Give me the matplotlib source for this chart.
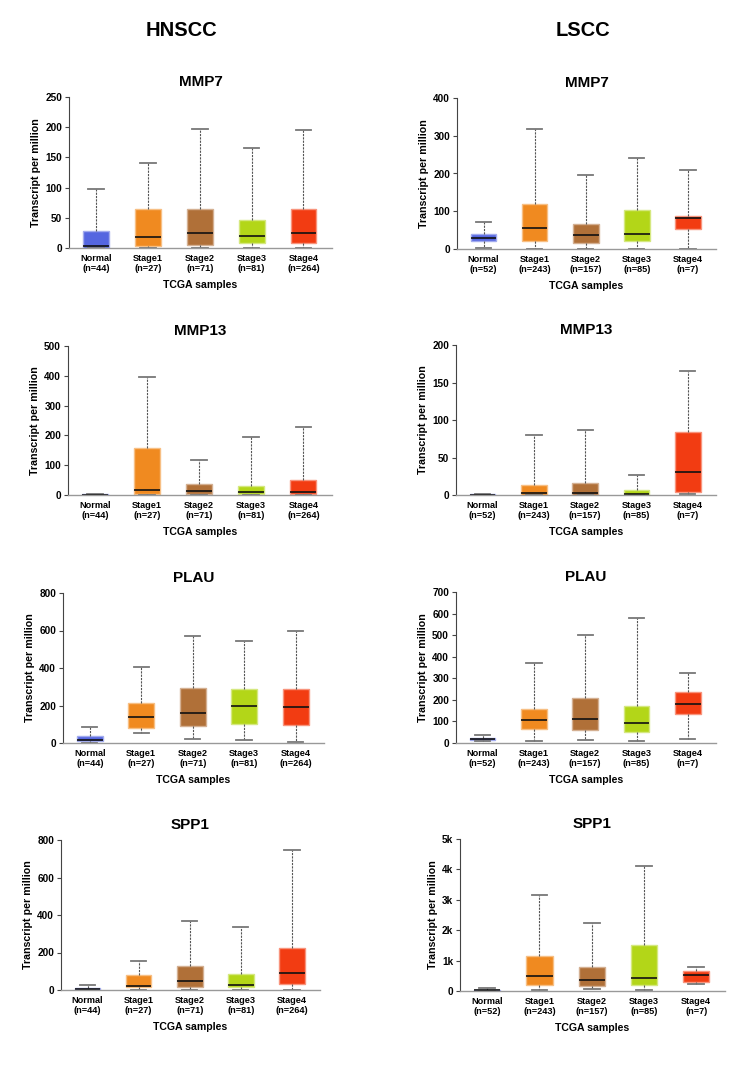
import numpy as np
import matplotlib.pyplot as plt
from matplotlib.ticker import FuncFormatter

plt.rcParams['font.family'] = ['Liberation Sans', 'DejaVu Sans']
plt.rcParams['font.weight'] = 'bold'

# ---------- data ----------
stages = ['Normal', 'Stage1', 'Stage2', 'Stage3', 'Stage4']
n_hnscc = [44, 27, 71, 81, 264]
n_lscc = [52, 243, 157, 85, 7]
colors = ['#5566e0', '#f08a20', '#b07038', '#b3d618', '#f23c12']

# each box: [lower whisker, q1, median, q3, upper whisker]
hnscc_mmp7 = [[0, 0.5, 4, 28, 97], [0.5, 4, 19, 65, 141], [0, 5.5, 25, 65, 197],
              [0.5, 8, 20, 46, 165], [0, 8, 25, 64, 195]]
lscc_mmp7 = [[3.5, 21, 28, 39, 71], [1, 22, 55, 118, 318], [1, 16, 36, 65, 196],
             [1, 21, 40, 104, 242], [1, 54, 81, 88, 210]]
hnscc_mmp13 = [[0, 0.2, 0.5, 2, 4], [0, 2, 16, 157, 396], [0, 5, 12, 38, 116],
               [0, 3, 10, 30, 195], [0, 3, 10, 51, 229]]
lscc_mmp13 = [[0, 0.1, 0.4, 1, 1.5], [0, 0.5, 2.2, 13.3, 79.5], [0, 0.4, 2.2, 16.4, 87],
              [0, 0.3, 1.3, 6.2, 26.7], [1, 4, 30.7, 83.5, 166]]
hnscc_plau = [[2, 10, 16, 35, 83], [51, 80, 140, 212, 407], [21, 90, 159, 294, 572],
              [18, 104, 196, 288, 545], [4, 97, 191, 288, 595]]
lscc_plau = [[11, 14, 19, 25, 39], [9, 63, 107, 159, 371], [15, 60, 113, 210, 501],
             [9, 51, 94, 172, 580], [19, 134, 179, 236, 325]]
hnscc_spp1 = [[0, 2, 5, 12, 25], [2, 16, 23, 82, 155], [2, 14, 50, 130, 368],
              [2, 14, 28, 87, 336], [2, 30, 92, 226, 745]]
lscc_spp1 = [[5, 15, 25, 40, 90], [44, 209, 485, 1167, 3150], [55, 176, 352, 782, 2236],
             [44, 209, 430, 1520, 4108], [242, 297, 540, 661, 804]]

panels = [
    ('MMP7', hnscc_mmp7, n_hnscc, 250, 50, (69, 97, 332, 248)),
    ('MMP7', lscc_mmp7, n_lscc, 400, 100, (457, 98, 716, 249)),
    ('MMP13', hnscc_mmp13, n_hnscc, 500, 100, (68, 346, 332, 495)),
    ('MMP13', lscc_mmp13, n_lscc, 200, 50, (456, 345, 716, 495)),
    ('PLAU', hnscc_plau, n_hnscc, 800, 200, (63, 593, 324, 743)),
    ('PLAU', lscc_plau, n_lscc, 700, 100, (456, 592, 716, 743)),
    ('SPP1', hnscc_spp1, n_hnscc, 800, 200, (61, 840, 320, 990)),
    ('SPP1', lscc_spp1, n_lscc, 5000, 1000, (460, 839, 725, 991)),
]

W, H = 750, 1068
fig = plt.figure(figsize=(W / 100, H / 100), dpi=100)
fig.text(181 / W, 1 - 31 / H, 'HNSCC', ha='center', va='center', fontsize=14.5, fontweight='bold')
fig.text(583 / W, 1 - 31 / H, 'LSCC', ha='center', va='center', fontsize=14.5, fontweight='bold')


def lighten(c, f=0.45):
    rgb = np.array(plt.matplotlib.colors.to_rgb(c))
    return tuple(rgb + (1 - rgb) * f)


for gene, data, ns, ymax, step, (x0, y0, x1, y1) in panels:
    ax = fig.add_axes([x0 / W, 1 - y1 / H, (x1 - x0) / W, (y1 - y0) / H])
    stats = []
    for lab, (lo, q1, med, q3, hi) in zip(stages, data):
        stats.append(dict(label=lab, whislo=lo, q1=q1, med=med, q3=q3, whishi=hi, fliers=[]))
    pos = np.arange(1, 6)
    bp = ax.bxp(stats, positions=pos, widths=0.5, patch_artist=True, showfliers=False,
                whiskerprops=dict(color='#555555', linestyle=(0, (2, 1)), linewidth=0.8),
                capprops=dict(color='#777777', linewidth=1.3),
                medianprops=dict(color='#111111', linewidth=1.2),
                boxprops=dict(linewidth=1.0))
    for patch, c in zip(bp['boxes'], colors):
        patch.set_facecolor(c)
        patch.set_edgecolor(lighten(c))
    for cap in bp['caps']:
        xd = cap.get_xdata()
        m = (xd[0] + xd[1]) / 2
        cap.set_xdata([m - 0.15, m + 0.15])

    ax.set_xlim(0.48, 5.55)
    ax.set_ylim(0, ymax)
    ax.set_yticks(np.arange(0, ymax + step / 2, step))
    if ymax >= 1000:
        ax.yaxis.set_major_formatter(FuncFormatter(lambda v, p: '0' if v == 0 else f'{int(v / 1000)}k'))
    ax.set_xticks(pos)
    ax.set_xticklabels([f'{s}\n(n={n})' for s, n in zip(stages, ns)], fontsize=6.6, fontweight='bold')
    ax.tick_params(axis='x', length=0, pad=4)
    ax.tick_params(axis='y', labelsize=7.2, length=3, width=0.8, color='#444444', pad=2)
    for t in ax.get_yticklabels():
        t.set_fontweight('bold')
    ax.spines['top'].set_visible(False)
    ax.spines['right'].set_visible(False)
    ax.spines['left'].set_color('#444444')
    ax.spines['left'].set_linewidth(0.8)
    ax.spines['bottom'].set_color('#999999')
    ax.spines['bottom'].set_linewidth(1.0)
    ax.set_ylabel('Transcript per million', fontsize=7.7, fontweight='bold', labelpad=3)
    ax.set_xlabel('TCGA samples', fontsize=7.6, fontweight='bold', labelpad=5)
    ax.set_title(gene, fontsize=11, fontweight='bold', pad=8)

fig.savefig('out.png', dpi=100, facecolor='white')
